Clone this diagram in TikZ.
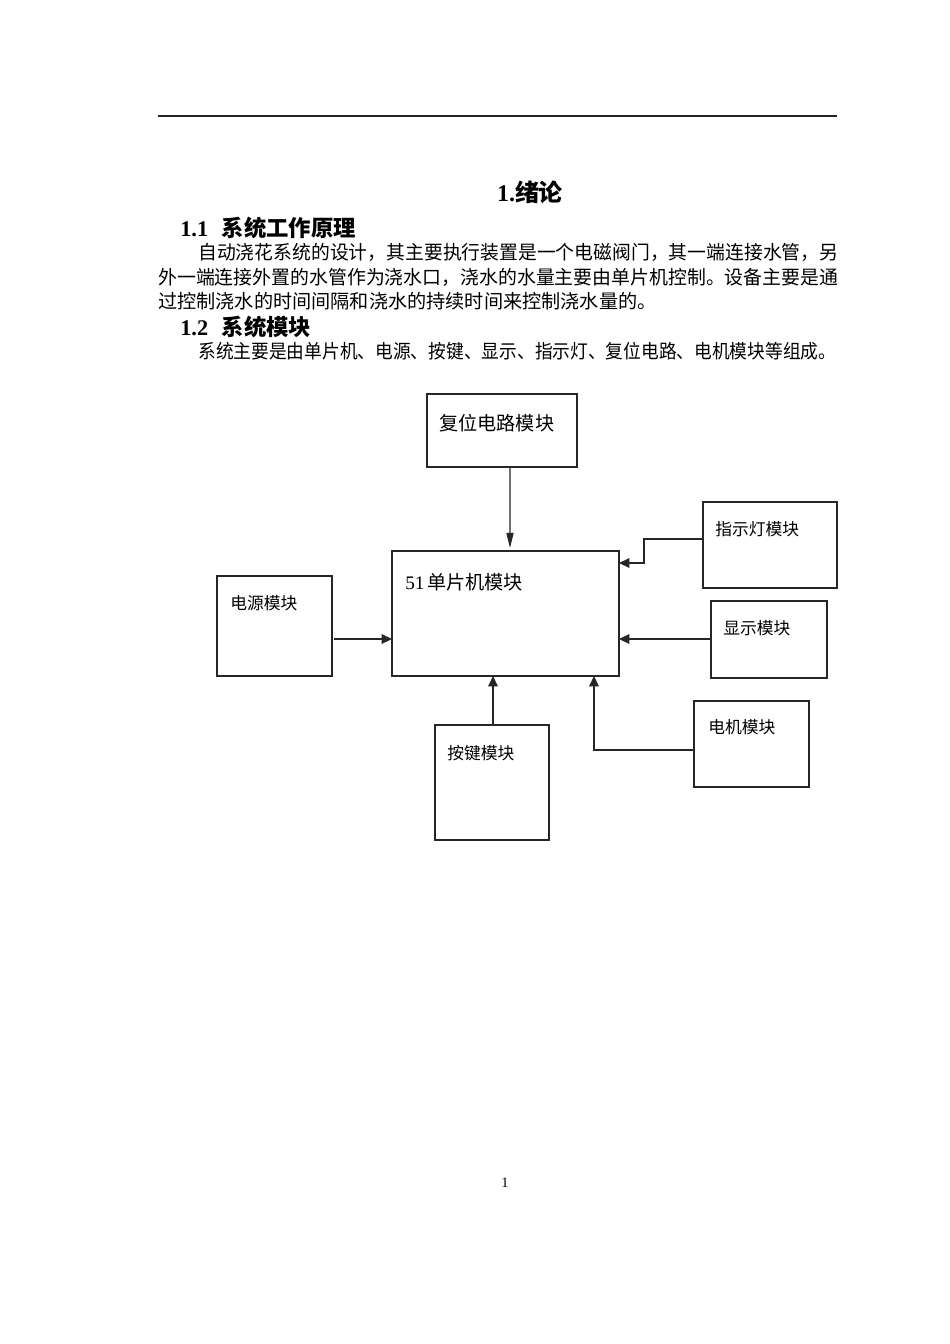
\documentclass[tikz,border=0pt]{standalone}
\usepackage{fontspec}
\usepackage{graphicx}
\setmainfont{Liberation Serif}
\newfontfamily\cjk{Noto Sans CJK SC}
\usetikzlibrary{arrows.meta}
\newlength\px
\setlength\px{0.6263pt}
\tikzset{
  box/.style={draw=black!85, line width=0.8pt, inner sep=0pt, outer sep=0pt, rectangle},
  arr/.style={draw=black!85, line width=0.8pt, -{Triangle[length=6.5pt,width=6pt]}},
  arrlong/.style={draw=black!85, line width=0.8pt, -{Triangle[length=9.5pt,width=4.5pt]}, shorten >=3\px},
  lbl/.style={anchor=west, inner sep=0pt, font=\cjk\fontsize{10.5}{12}\selectfont},
  lblbig/.style={anchor=west, inner sep=0pt, font=\cjk\fontsize{12}{14}\selectfont},
  bodyline/.style={anchor=west, inner sep=0pt, font=\cjk\fontsize{12}{14}\selectfont},
  headline/.style={anchor=west, inner sep=0pt, font=\fontsize{14}{16}\selectfont\bfseries}
}
\begin{document}
\begin{tikzpicture}[x=0.6263pt, y=-0.6263pt]
\useasboundingbox[fill=white] (0,0) rectangle (950,1344);
% header rule
\coordinate (hl) at (158,116);
\coordinate (hr) at (837,116);
\draw[black!85, line width=0.7pt] (hl) -- (hr);
% title
\node[inner sep=0pt, font=\fontsize{15}{18}\selectfont\bfseries] (title) at (530,192) {1.{\cjk 绪论}};
\node[headline] (h11) at (180,228) {1.1\hspace{0.6em}{\cjk 系统工作原理}};
\node[bodyline] (p1) at (198,252) {\resizebox{640\px}{\height}{自动浇花系统的设计，其主要执行装置是一个电磁阀门，其一端连接水管，另}};
\node[bodyline] (p2) at (158,277) {\resizebox{680\px}{\height}{外一端连接外置的水管作为浇水口，浇水的水量主要由单片机控制。设备主要是通}};
\node[bodyline] (p3) at (158,301) {过控制浇水的时间间隔和浇水的持续时间来控制浇水量的。};
\node[headline] (h12) at (180,327) {1.2\hspace{0.6em}{\cjk 系统模块}};
\node[bodyline] (p4) at (198,351) {\resizebox{638\px}{\height}{系统主要是由单片机、电源、按键、显示、指示灯、复位电路、电机模块等组成。}};
% boxes
\node[box, minimum width=150\px, minimum height=73\px] (reset) at (502,430.5) {};
\node[box, minimum width=227\px, minimum height=125\px] (mcu) at (505.5,613.5) {};
\node[box, minimum width=134\px, minimum height=86\px] (ind) at (770,545) {};
\node[box, minimum width=116\px, minimum height=77\px] (disp) at (769,639.5) {};
\node[box, minimum width=115\px, minimum height=86\px] (motor) at (751.5,744) {};
\node[box, minimum width=115\px, minimum height=100\px] (power) at (274.5,626) {};
\node[box, minimum width=114\px, minimum height=115\px] (keys) at (492,782.5) {};
% labels
\node[lblbig] (treset) at (439,423) {复位电路模块};
\node[lblbig] (tmcu) at (405,582) {{\rmfamily 51}\hspace{0.15em}单片机模块};
\node[lbl] (tind) at (715,529) {指示灯模块};
\node[lbl] (tdisp) at (723,628) {显示模块};
\node[lbl] (tmotor) at (708,727) {电机模块};
\node[lbl] (tpower) at (230,603) {电源模块};
\node[lbl] (tkeys) at (447,753) {按键模块};
% connectors
\draw[arrlong] ([xshift=8\px]reset.south) -- ([xshift=4.5\px]mcu.north);
\coordinate (indbend) at (644,563);
\draw[arr] ([yshift=6\px]ind.west) -| (indbend) -- (indbend -| mcu.east);
\draw[arr] ([yshift=0.5\px]disp.west) -- ([yshift=0.5\px]disp.west -| mcu.east);
\draw[arr] ([yshift=-6\px]motor.west) -| ([xshift=88.5\px]mcu.south);
\draw[arr] ([xshift=2\px,yshift=-13\px]power.east) -- ([yshift=-13\px]power.east -| mcu.west);
\draw[arr] ([xshift=1\px]keys.north) -- ([xshift=1\px]keys.north |- mcu.south);
% page number
\node[inner sep=0pt, font=\fontsize{9}{10}\selectfont] (pno) at (505,1183) {1};
\end{tikzpicture}
\end{document}
